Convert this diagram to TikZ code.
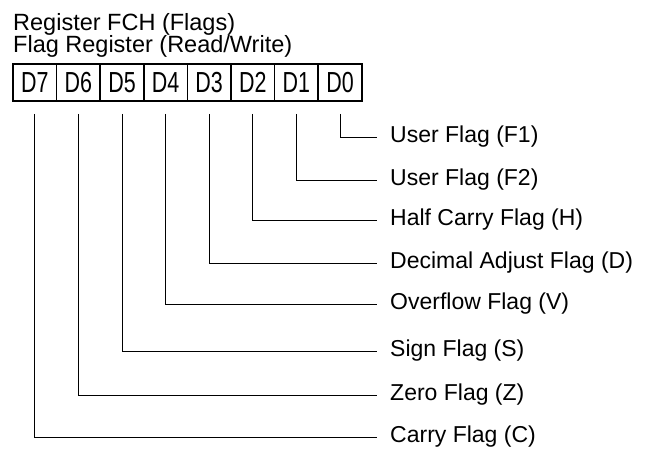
\documentclass[tikz,border=0pt]{standalone}
\usepackage{fontspec}
\setmainfont{Liberation Sans}
\newfontfamily\narrowfont[FakeStretch=0.74]{Liberation Sans}
\tikzset{
  bitbox/.style={draw=black, line width=1.7pt, minimum width=43.6pt, minimum height=37pt, inner sep=0pt, font=\narrowfont\fontsize{29}{29}\selectfont},
  flaglabel/.style={anchor=west, inner xsep=13pt, inner ysep=0pt, font=\fontsize{23}{24}\selectfont},
  heading/.style={anchor=base west, inner sep=0pt, font=\fontsize{23.5}{24}\selectfont},
  lead/.style={line width=0.9pt, black}
}

\begin{document}
\begin{tikzpicture}[x=1pt, y=-1pt]
  \useasboundingbox (0,0) rectangle (647,456);
  \node[heading] (reg) at (13,30.5) {Register FCH (Flags)};
  \node[heading] (rw) at (13,52) {Flag Register (Read/Write)};
  % the eight bits, D7 on the left
  \foreach \i in {0,...,7}
    \node[bitbox] (d\i) at ({13+43.6*(7-\i)+21.8}, 82.5) {D\i};
  % one lead per flag
  \foreach \i/\y/\txt in {0/137/User Flag (F1), 1/180/User Flag (F2), 2/220/Half Carry Flag (H),
      3/263/Decimal Adjust Flag (D), 4/304/Overflow Flag (V), 5/351/Sign Flag (S),
      6/395/Zero Flag (Z), 7/437/Carry Flag (C)} {
    \node[flaglabel] (f\i) at (377,\y) {\txt};
    \draw[lead] ([yshift=-12pt]d\i.south) |- (f\i.west);
  }
\end{tikzpicture}
\end{document}
